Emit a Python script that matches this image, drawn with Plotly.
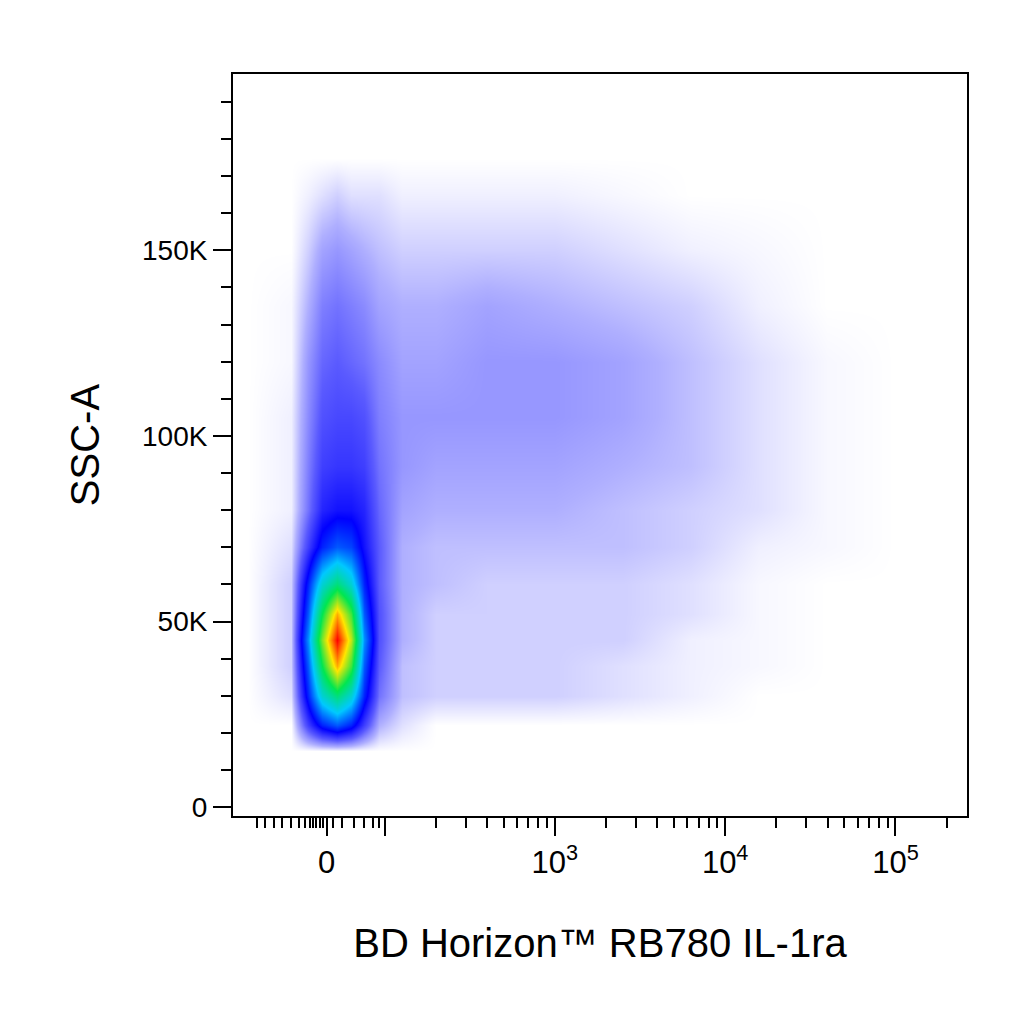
import math
import plotly.graph_objects as go

# display position on the biexponential axis (decade units: 3 -> 10^3)
x_nodes = [1.2, 1.45, 1.55, 1.63, 1.72, 1.80, 1.88, 1.97, 2.1, 2.3, 2.6, 3.0, 3.4, 3.8, 4.2, 4.6, 5.0, 5.3]
# SSC-A in K
y_nodes = [0, 15, 22, 30, 38, 45, 52, 60, 70, 80, 92, 105, 120, 135, 150, 165, 175]
# relative event density (0 = empty, 10 = red core)
density = [
    [0] * 18,
    [0] * 18,
    [0, 0, 1.5, 2.5, 3, 2.5, 1.5, 0.5, 0.2, 0, 0, 0, 0, 0, 0, 0, 0, 0],
    [0, 0.2, 2.5, 4.5, 5.5, 4.5, 2.5, 1, 0.4, 0.3, 0.3, 0.3, 0.2, 0.1, 0, 0, 0, 0],
    [0, 0.3, 3, 6, 8.5, 6.5, 3, 1.2, 0.4, 0.3, 0.3, 0.3, 0.2, 0.1, 0.05, 0, 0, 0],
    [0, 0.3, 3.5, 7, 10, 7.5, 3.5, 1.3, 0.5, 0.3, 0.3, 0.3, 0.3, 0.1, 0.05, 0, 0, 0],
    [0, 0.3, 3, 6, 8.5, 6.5, 3, 1.3, 0.5, 0.3, 0.3, 0.3, 0.3, 0.2, 0.05, 0, 0, 0],
    [0, 0.3, 2.5, 4.5, 5.5, 4.5, 2.5, 1.2, 0.5, 0.4, 0.3, 0.3, 0.3, 0.2, 0.05, 0, 0, 0],
    [0, 0.2, 1.5, 2.5, 3, 2.8, 2, 1.2, 0.5, 0.4, 0.4, 0.4, 0.4, 0.3, 0.1, 0.05, 0, 0],
    [0, 0.1, 1, 1.8, 2, 2, 1.8, 1.1, 0.6, 0.5, 0.5, 0.5, 0.4, 0.3, 0.2, 0.05, 0, 0],
    [0, 0.1, 0.9, 1.5, 1.6, 1.6, 1.5, 1, 0.7, 0.6, 0.6, 0.6, 0.5, 0.4, 0.2, 0.05, 0, 0],
    [0, 0.1, 0.8, 1.3, 1.4, 1.4, 1.3, 0.9, 0.7, 0.7, 0.7, 0.7, 0.6, 0.4, 0.2, 0.05, 0, 0],
    [0, 0.05, 0.7, 1.1, 1.2, 1.1, 1, 0.8, 0.6, 0.6, 0.7, 0.7, 0.6, 0.4, 0.2, 0.05, 0, 0],
    [0, 0.05, 0.5, 0.9, 1, 0.9, 0.8, 0.6, 0.5, 0.5, 0.6, 0.5, 0.4, 0.3, 0.1, 0, 0, 0],
    [0, 0, 0.3, 0.6, 0.7, 0.6, 0.5, 0.4, 0.3, 0.3, 0.3, 0.3, 0.2, 0.1, 0.05, 0, 0, 0],
    [0, 0, 0.1, 0.2, 0.3, 0.2, 0.2, 0.2, 0.1, 0.1, 0.1, 0.1, 0.05, 0, 0, 0, 0, 0],
    [0] * 18,
]

x_tickvals = [1.66, 2, 3, 4, 5]
x_ticktext = ["0", "", "10<sup>3</sup>", "10<sup>4</sup>", "10<sup>5</sup>"]
x_minor = [1.25, 1.3, 1.35, 1.4, 1.45, 1.5, 1.53, 1.56, 1.58, 1.6, 1.62, 1.64, 1.7, 1.75, 1.82, 1.88, 1.93, 1.97]
for dec in [2, 3, 4, 5]:
    for k in [2, 3, 4, 5, 6, 7, 8, 9]:
        v = dec + math.log10(k)
        if v < 5.42:
            x_minor.append(v)

y_tickvals = [0, 50, 100, 150]
y_ticktext = ["0", "50K", "100K", "150K"]

colorscale = [
    [0, "white"], [0.01, "rgb(240,240,255)"], [0.05, "rgb(175,175,255)"],
    [0.12, "rgb(90,90,255)"], [0.22, "rgb(0,0,255)"], [0.4, "rgb(0,200,255)"],
    [0.6, "rgb(0,230,80)"], [0.8, "rgb(255,230,0)"], [1, "rgb(255,0,0)"],
]

fig = go.Figure(go.Heatmap(
    x=x_nodes, y=y_nodes, z=density, zmin=0, zmax=10,
    colorscale=colorscale, zsmooth="best", showscale=False,
))

fig.update_layout(
    width=1024, height=1024,
    margin=dict(l=225, r=65, t=66, b=216),
    plot_bgcolor="white", paper_bgcolor="white",
    font=dict(family="Liberation Sans", size=20, color="black"),
    xaxis=dict(
        range=[1.11, 5.42], showgrid=False, zeroline=False,
        tickvals=x_tickvals, ticktext=x_ticktext, tickfont=dict(size=31),
        ticks="outside", ticklen=18, tickwidth=2, tickcolor="black",
        minor=dict(tickvals=x_minor, ticks="outside", ticklen=10, tickwidth=1.5, tickcolor="black"),
        showline=True, linecolor="black", linewidth=2, mirror=True,
        title=dict(text="BD Horizon™ RB780 IL-1ra", font=dict(size=40), standoff=50),
    ),
    yaxis=dict(
        range=[-2.4, 197.5], showgrid=False, zeroline=False,
        tickvals=y_tickvals, ticktext=y_ticktext, tickfont=dict(size=28),
        ticks="outside", ticklen=18, tickwidth=2, tickcolor="black",
        minor=dict(dtick=10, ticks="outside", ticklen=10, tickwidth=1.5, tickcolor="black"),
        showline=True, linecolor="black", linewidth=2, mirror=True,
        title=dict(text="SSC-A", font=dict(size=40), standoff=30),
    ),
)

fig.write_html("out.html")
